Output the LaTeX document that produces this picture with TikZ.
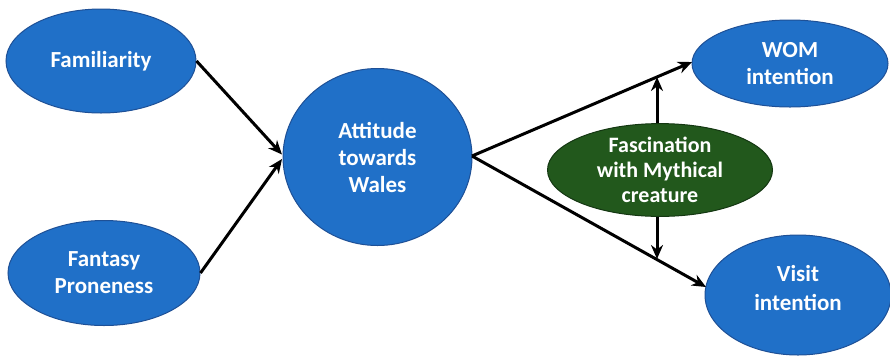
\documentclass[tikz,border=0pt]{standalone}
\usepackage{fontspec}
\setmainfont{Carlito}
\usetikzlibrary{shapes.geometric,arrows.meta}
\definecolor{nodeblue}{RGB}{32,112,200}
\definecolor{edgeblue}{RGB}{30,80,150}
\definecolor{nodegreen}{RGB}{34,88,28}
\definecolor{edgegreen}{RGB}{20,55,18}
\tikzset{
  bluenode/.style={ellipse, draw=edgeblue, line width=1pt, fill=nodeblue, text=white, inner sep=0pt, align=center, font=\fontsize{23}{27}\selectfont\bfseries},
  greennode/.style={ellipse, draw=edgegreen, line width=1pt, fill=nodegreen, text=white, inner sep=0pt, align=center, font=\fontsize{22}{25}\selectfont\bfseries},
  link/.style={line width=3pt, -{Stealth[length=14pt,width=12pt]}, black}
}
\begin{document}
\begin{tikzpicture}[x=1pt,y=-1pt]
\useasboundingbox (0,0) rectangle (890,357);
\node[bluenode, minimum width=190pt, minimum height=104pt] (fam) at (101,61) {Familiarity};
\node[bluenode, minimum width=192pt, minimum height=105pt] (fan) at (104,273) {Fantasy\\Proneness};
\node[bluenode, minimum width=189pt, minimum height=177pt] (att) at (377.5,157) {Attitude\\towards\\Wales};
\node[bluenode, minimum width=196pt, minimum height=87pt] (wom) at (790,63.5) {WOM\\intention};
\node[bluenode, minimum width=186pt, minimum height=120pt, font=\fontsize{23}{29}\selectfont\bfseries] (vis) at (798,295) {Visit\\intention\\[-14pt]};
\node[greennode, minimum width=225pt, minimum height=86pt] (fas) at (660,170) {Fascination\\with Mythical\\creature};
\coordinate (attR) at (472,156);
\draw[link] (fam.east) -- (282,154.5);
\draw[link] (fan.east) -- (282,159);
\draw[link] (attR) -- (692,62);
\draw[link] (attR) -- (706,287);
\coordinate (up) at (657,77);
\coordinate (dn) at (657,259);
\draw[link] (fas.north -| up) -- (up);
\draw[link] (fas.south -| dn) -- (dn);
\end{tikzpicture}
\end{document}
